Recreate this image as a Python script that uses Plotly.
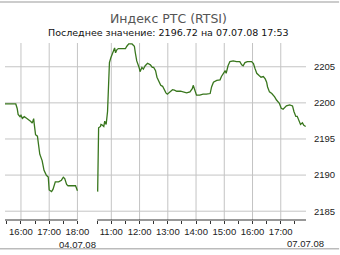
import plotly.graph_objects as go

# ---- data: session of 04.07.08 ----
times_1 = ["15:25", "15:49", "15:52", "15:54", "15:58", "16:00", "16:03", "16:07", "16:12", "16:18",
           "16:21", "16:24", "16:27", "16:28", "16:31", "16:35", "16:38", "16:40", "16:45", "16:49",
           "16:54", "16:58", "17:00", "17:05", "17:08", "17:13", "17:20", "17:26", "17:30", "17:33",
           "17:37", "17:40", "17:56", "18:00"]
values_1 = [2199.85, 2199.85, 2199.22, 2198.41, 2198.09, 2198.27, 2197.86, 2198.09, 2197.86, 2197.63,
            2197.42, 2197.19, 2197.82, 2197.19, 2195.60, 2195.39, 2194.03, 2192.89, 2192.00, 2190.65,
            2189.97, 2189.74, 2187.94, 2187.71, 2188.02, 2189.06, 2189.06, 2189.29, 2189.70, 2189.51,
            2188.70, 2188.52, 2188.52, 2187.84]

# ---- data: session of 07.07.08 ----
times_2 = ["10:31", "10:33", "10:37", "10:38", "10:40", "10:42", "10:44", "10:46", "10:49", "10:52",
           "10:54", "10:56", "10:59", "11:03", "11:07", "11:09", "11:12", "11:15", "11:22", "11:30",
           "11:33", "11:37", "11:44", "11:49", "11:51", "11:54", "11:59", "12:01", "12:05", "12:08",
           "12:12", "12:17", "12:23", "12:27", "12:30", "12:34", "12:37", "12:41", "12:45", "12:49",
           "12:52", "12:56", "12:59", "13:05", "13:10", "13:14", "13:19", "13:27", "13:33", "13:40",
           "13:47", "13:52", "13:54", "13:58", "14:01", "14:08", "14:15", "14:22", "14:30", "14:33",
           "14:37", "14:44", "14:51", "14:54", "14:58", "15:02", "15:04", "15:06", "15:08", "15:12",
           "15:19", "15:26", "15:33", "15:37", "15:40", "15:44", "15:49", "15:58", "16:02", "16:05",
           "16:09", "16:14", "16:18", "16:23", "16:27", "16:30", "16:32", "16:36", "16:41", "16:47",
           "16:51", "16:57", "17:01", "17:05", "17:12", "17:19", "17:25", "17:28", "17:32", "17:35",
           "17:39", "17:42", "17:46", "17:49", "17:53"]
values_2 = [2187.71, 2196.55, 2196.74, 2197.01, 2196.96, 2196.88, 2196.74, 2197.46, 2197.01, 2198.81,
            2203.55, 2205.58, 2206.26, 2206.94, 2207.61, 2206.94, 2207.38, 2207.52, 2207.48, 2207.52,
            2207.84, 2208.16, 2208.16, 2207.84, 2206.94, 2205.81, 2204.91, 2204.32, 2204.91, 2204.68,
            2205.14, 2205.49, 2205.27, 2204.91, 2204.91, 2204.46, 2203.55, 2202.87, 2202.43, 2202.29,
            2201.83, 2201.38, 2201.21, 2201.52, 2201.83, 2201.75, 2201.61, 2201.61, 2201.52, 2201.38,
            2201.52, 2201.97, 2202.43, 2201.75, 2201.07, 2201.07, 2201.21, 2201.21, 2201.29, 2202.20,
            2202.87, 2203.10, 2203.19, 2203.65, 2204.09, 2204.46, 2204.09, 2204.91, 2205.14, 2205.72,
            2205.81, 2205.72, 2205.72, 2205.27, 2205.14, 2205.58, 2205.72, 2205.72, 2205.45, 2204.81,
            2204.09, 2203.78, 2203.55, 2203.65, 2203.32, 2202.87, 2202.20, 2201.52, 2201.29, 2200.84,
            2200.39, 2199.94, 2199.26, 2199.12, 2199.58, 2199.72, 2199.58, 2198.81, 2198.13, 2198.13,
            2197.46, 2197.01, 2197.23, 2196.88, 2196.72]

# ---- tick labels ----
hour_labels_1 = ["16:00", "17:00", "18:00"]
half_hours_1 = ["15:30", "16:30", "17:30"]
hour_labels_2 = ["11:00", "12:00", "13:00", "14:00", "15:00", "16:00", "17:00"]
half_hours_2 = ["10:30", "11:30", "12:30", "13:30", "14:30", "15:30", "16:30", "17:30"]
date_1 = "04.07.08"
date_2 = "07.07.08"
y_ticks = [2185, 2190, 2195, 2200, 2205]

title = "Индекс РТС (RTSI)"
subtitle = "Последнее значение: 2196.72 на 07.07.08 17:53"


def hrs(t):
    h, m = t.split(":")
    return int(h) + int(m) / 60.0


# session 1 plotted at its clock hours; session 2 shifted to follow it after a short gap
s1_start, s1_end = 15.435, 18.0
s2_start, s2_end = 10.5, 17.894
gap = 0.70
offset2 = s1_end + gap - s2_start


def u1(t):
    return hrs(t)


def u2(t):
    return hrs(t) + offset2


x1 = [u1(t) for t in times_1]
x2 = [u2(t) for t in times_2]

hour_vals = [u1(t) for t in hour_labels_1] + [u2(t) for t in hour_labels_2]
hour_text = hour_labels_1[:-1] + [hour_labels_1[-1] + "<br>" + date_1] + hour_labels_2
half_vals = [u1(t) for t in half_hours_1] + [u2(t) for t in half_hours_2]

LINE = "#38761d"
GRID = "#c4c4c4"
AX = "#333333"
FONT = dict(family="Arial", size=9.5, color="#222222")

fig = go.Figure()
fig.add_trace(go.Scatter(x=x1, y=values_1, mode="lines",
                         line=dict(color=LINE, width=1.3), showlegend=False))
fig.add_trace(go.Scatter(x=x2, y=values_2, mode="lines",
                         line=dict(color=LINE, width=1.3), showlegend=False))

x_lo = s1_start
x_hi = s2_end + offset2

# grid rules, drawn beneath the traces at the axis tick positions
grid_shapes = (
    [dict(type="line", layer="below", xref="x", yref="paper", x0=v, x1=v, y0=0, y1=1,
          line=dict(color=GRID, width=1)) for v in hour_vals]
    + [dict(type="line", layer="below", xref="paper", yref="y", x0=0, x1=1, y0=v, y1=v,
            line=dict(color=GRID, width=1)) for v in y_ticks]
)

fig.update_layout(
    width=340, height=255,
    margin=dict(l=5, r=32, t=43, b=31),
    paper_bgcolor="white", plot_bgcolor="white",
    xaxis=dict(range=[x_lo, x_hi], tickmode="array", tickvals=hour_vals, ticktext=hour_text,
               showgrid=False, zeroline=False, showline=False,
               ticks="outside", ticklen=3, tickcolor=AX, tickwidth=1, tickfont=FONT,
               tickangle=0,
               minor=dict(tickmode="array", tickvals=half_vals, ticks="outside", ticklen=3,
                          tickcolor=AX, tickwidth=1, showgrid=False)),
    yaxis=dict(side="right", range=[2183.78, 2208.29], tickmode="array",
               tickvals=y_ticks, ticktext=[str(v) for v in y_ticks], showgrid=False,
               zeroline=False, showline=False,
               ticks="outside", ticklen=5, tickcolor="rgba(0,0,0,0)", tickfont=FONT),
    annotations=[
        dict(text=title, xref="paper", yref="paper", x=0.5446, y=1.138, showarrow=False,
             xanchor="center", yanchor="middle",
             font=dict(family="DejaVu Sans", size=12.5, color="#555555")),
        dict(text=subtitle, xref="paper", yref="paper", x=0.5446, y=1.058, showarrow=False,
             xanchor="center", yanchor="middle",
             font=dict(family="DejaVu Sans", size=9.5, color="#111111")),
        dict(text=date_2, xref="x", yref="paper", x=x2[-1], y=-0.1326, showarrow=False,
             xanchor="center", yanchor="middle", font=FONT),
    ],
    shapes=grid_shapes + [
        dict(type="line", xref="x", yref="paper", x0=x_lo, x1=s1_end, y0=0, y1=0,
             line=dict(color=AX, width=1)),
        dict(type="line", xref="x", yref="paper", x0=s2_start + offset2, x1=x_hi, y0=0, y1=0,
             line=dict(color=AX, width=1)),
        dict(type="line", xref="paper", yref="paper", x0=-0.02, x1=1.11, y0=1.232, y1=1.232,
             line=dict(color="#bbbbbb", width=1.5)),
        dict(type="line", xref="paper", yref="paper", x0=-0.02, x1=1.11, y0=-0.163, y1=-0.163,
             line=dict(color="#bbbbbb", width=1.5)),
    ],
)

fig.write_html("out.html")
